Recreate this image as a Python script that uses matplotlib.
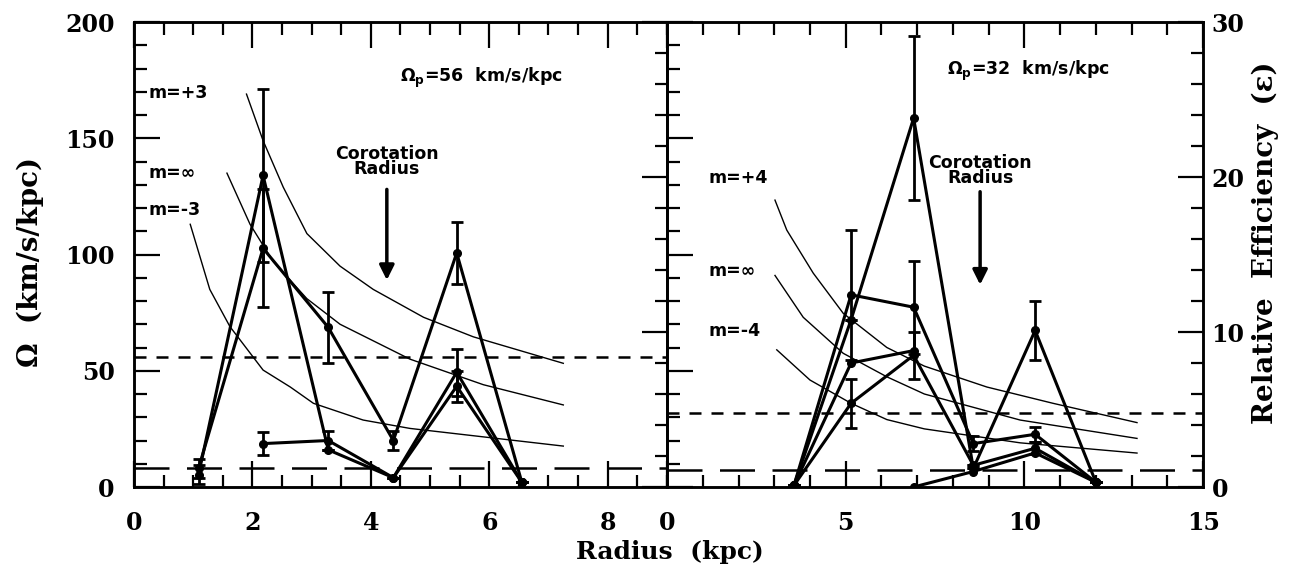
import matplotlib.pyplot as plt
from matplotlib.ticker import MultipleLocator

# ---- data ----
# left panel, resonance curves (Omega, km/s/kpc)
l_mp3_R = [1.90, 2.18, 2.52, 2.92, 3.48, 4.04, 4.89, 5.73, 7.25]
l_mp3_W = [169, 149, 129, 109, 95, 85, 73, 64.6, 53.2]
l_minf_R = [1.57, 1.96, 2.35, 2.92, 3.48, 4.66, 5.9, 7.25]
l_minf_W = [135, 113, 97, 81, 70, 55, 44, 35.3]
l_mm3_R = [0.95, 1.28, 1.62, 2.18, 2.64, 3.03, 3.87, 4.66, 7.25]
l_mm3_W = [113, 85, 69, 50.3, 43, 36, 28.8, 25.2, 17.6]
l_omega_p = 56
l_eps_floor = 1.2

# left panel, relative efficiency
l_R = [1.09, 2.18, 3.28, 4.38, 5.45, 6.55]
l_A = [0.8, 20.1, 2.4, 0.6, 7.4, 0.3]
l_A_err = [0.6, 5.6, 0, 0, 1.5, 0]
l_B = [1.2, 15.4, 10.3, 3.0, 15.1, 0.3]
l_B_err = [0.6, 3.8, 2.3, 0.6, 2.0, 0]
l_C_R = [2.18, 3.28, 4.38, 5.45, 6.55]
l_C = [2.8, 3.0, 0.6, 6.5, 0.3]
l_C_err = [0.75, 0.6, 0, 1.0, 0]

# right panel, resonance curves
r_mp4_R = [3.02, 3.35, 4.09, 4.93, 6.15, 7.2, 8.95, 10.8, 13.15]
r_mp4_W = [123.4, 110.5, 92, 74.7, 60, 52, 43, 36, 27.7]
r_minf_R = [3.02, 3.81, 4.93, 6.15, 7.2, 9.88, 13.15]
r_minf_W = [91, 73, 57.5, 47.4, 40, 28.8, 20.9]
r_mm4_R = [3.07, 4.0, 5.15, 6.15, 7.2, 9.88, 13.15]
r_mm4_W = [59, 46, 36, 29, 25, 19, 14.6]
r_omega_p = 32
r_eps_floor = 1.1

# right panel, relative efficiency
r_R = [3.55, 5.15, 6.9, 8.57, 10.3, 12.0]
r_D = [0.1, 10.8, 23.8, 1.2, 10.1, 0.3]
r_D_err = [0, 0, 5.3, 0, 1.9, 0]
r_E = [0.1, 12.4, 11.6, 2.8, 3.4, 0.3]
r_E_err = [0, 4.2, 3.0, 0.5, 0.5, 0]
r_F = [0.1, 5.4, 8.5, 1.4, 2.5, 0.3]
r_F_err = [0, 1.6, 1.5, 0, 0.4, 0]
r_H_R = [3.55, 5.15, 6.9]
r_H = [0.1, 8.0, 8.8]
r_G_R = [6.9, 8.57, 10.3, 12.0]
r_G = [0.0, 1.0, 2.2, 0.3]

# ---- figure ----
fig = plt.figure(figsize=(12.92, 5.72), dpi=100)
ax1 = fig.add_axes([0.1037, 0.1486, 0.4125, 0.8129])
ax2 = fig.add_axes([0.5163, 0.1486, 0.4149, 0.8129])
ax1e = ax1.twinx()
ax2e = ax2.twinx()

tickfont = {'family': 'DejaVu Serif', 'weight': 'bold', 'size': 17}
annfont = {'family': 'DejaVu Sans', 'weight': 'bold', 'size': 12.5}
thin = dict(color='black', lw=1.0)
thick = dict(color='black', lw=2.2, marker='o', ms=5.5)
ebkw = dict(fmt='none', ecolor='black', elinewidth=2.0, capsize=4, capthick=2.0)

for ax in (ax1, ax2, ax1e, ax2e):
    for s in ax.spines.values():
        s.set_linewidth(1.8)

# Omega axes
ax1.set_xlim(0, 9)
ax2.set_xlim(0, 15)
for ax in (ax1, ax2):
    ax.set_ylim(0, 200)
    ax.yaxis.set_major_locator(MultipleLocator(50))
    ax.yaxis.set_minor_locator(MultipleLocator(10))
    ax.tick_params(which='both', direction='in', top=True, right=False, width=1.6)
    ax.tick_params(which='major', length=19)
    ax.tick_params(which='minor', length=9)
ax1.set_xticks([0, 2, 4, 6, 8])
ax1.xaxis.set_minor_locator(MultipleLocator(0.5))
ax2.set_xticks([0, 5, 10, 15])
ax2.xaxis.set_minor_locator(MultipleLocator(1))
ax2.tick_params(labelleft=False)

# efficiency axes
for ax in (ax1e, ax2e):
    ax.set_ylim(0, 30)
    ax.yaxis.set_major_locator(MultipleLocator(10))
    ax.yaxis.set_minor_locator(MultipleLocator(2))
    ax.tick_params(which='both', direction='in', width=1.6)
    ax.tick_params(which='major', length=18)
    ax.tick_params(which='minor', length=9)
ax1e.tick_params(labelright=False)

for ax in (ax1, ax2, ax2e):
    for lab in ax.get_xticklabels() + ax.get_yticklabels():
        lab.set_fontproperties(tickfont)
ax1.tick_params(axis='x', pad=17)
ax2.tick_params(axis='x', pad=17)
ax1.tick_params(axis='y', pad=14)
ax2e.tick_params(axis='y', pad=6)

# resonance curves
ax1.plot(l_mp3_R, l_mp3_W, **thin)
ax1.plot(l_minf_R, l_minf_W, **thin)
ax1.plot(l_mm3_R, l_mm3_W, **thin)
ax2.plot(r_mp4_R, r_mp4_W, **thin)
ax2.plot(r_minf_R, r_minf_W, **thin)
ax2.plot(r_mm4_R, r_mm4_W, **thin)

# pattern speed and floor levels
ax1.axhline(l_omega_p, color='black', lw=1.8, ls=(0, (4.8, 4)))
ax2.axhline(r_omega_p, color='black', lw=1.8, ls=(0, (4.8, 4)))
ax1e.axhline(l_eps_floor, color='black', lw=1.8, ls=(0, (14, 7)))
ax2e.axhline(r_eps_floor, color='black', lw=1.8, ls=(0, (14, 7)))

# efficiency series, left
ax1e.plot(l_R, l_A, **thick)
ax1e.errorbar(l_R, l_A, yerr=l_A_err, **ebkw)
ax1e.plot(l_R, l_B, **thick)
ax1e.errorbar(l_R, l_B, yerr=l_B_err, **ebkw)
ax1e.plot(l_C_R, l_C, **thick)
ax1e.errorbar(l_C_R, l_C, yerr=l_C_err, **ebkw)

# efficiency series, right
ax2e.plot(r_R, r_D, **thick)
ax2e.errorbar(r_R, r_D, yerr=r_D_err, **ebkw)
ax2e.plot(r_R, r_E, **thick)
ax2e.errorbar(r_R, r_E, yerr=r_E_err, **ebkw)
ax2e.plot(r_R, r_F, **thick)
ax2e.errorbar(r_R, r_F, yerr=r_F_err, **ebkw)
ax2e.plot(r_H_R, r_H, **thick)
ax2e.plot(r_G_R, r_G, **thick)

# annotations, left
ax1.text(0.24, 169.5, 'm=+3', ha='left', va='center', **annfont)
ax1.text(0.24, 135, 'm=\u221e', ha='left', va='center', **annfont)
ax1.text(0.24, 119, 'm=-3', ha='left', va='center', **annfont)
ax1.text(4.49, 176, '\u03a9$_\\mathbf{p}$=56  km/s/kpc', ha='left', va='center', **annfont)
ax1.text(4.27, 140, 'Corotation\nRadius', ha='center', va='center',
         linespacing=0.8, **annfont)
ax1.annotate('', xy=(4.27, 89), xytext=(4.27, 128),
             arrowprops=dict(arrowstyle='-|>', lw=2.5, color='black',
                             mutation_scale=22, shrinkA=0, shrinkB=0))

# annotations, right
ax2.text(1.15, 133, 'm=+4', ha='left', va='center', **annfont)
ax2.text(1.15, 93, 'm=\u221e', ha='left', va='center', **annfont)
ax2.text(1.15, 67, 'm=-4', ha='left', va='center', **annfont)
ax2.text(7.84, 179, '\u03a9$_\\mathbf{p}$=32  km/s/kpc', ha='left', va='center', **annfont)
ax2.text(8.76, 136, 'Corotation\nRadius', ha='center', va='center',
         linespacing=0.8, **annfont)
ax2.annotate('', xy=(8.76, 87), xytext=(8.76, 127),
             arrowprops=dict(arrowstyle='-|>', lw=2.5, color='black',
                             mutation_scale=22, shrinkA=0, shrinkB=0))

# axis titles
fig.text(30 / 1292, 1 - 262 / 572, '\u03a9  (km/s/kpc)', rotation=90,
         ha='center', va='center', family='DejaVu Serif', weight='bold', size=20)
fig.text(1265 / 1292, 1 - 243 / 572, 'Relative  Efficiency  (\u03b5)', rotation=90,
         ha='center', va='center', family='DejaVu Serif', weight='bold', size=20)
fig.text(670 / 1292, 1 - 552 / 572, 'Radius  (kpc)', ha='center', va='center',
         family='DejaVu Serif', weight='bold', size=18)

fig.savefig('out.png', dpi=100)
